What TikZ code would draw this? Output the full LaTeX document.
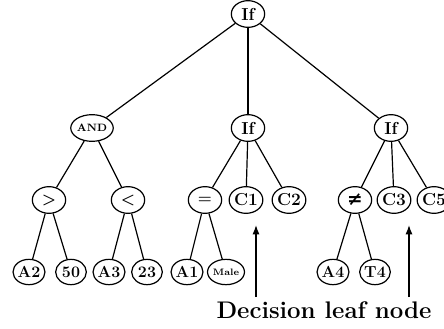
\documentclass[tikz,border=0pt]{standalone}
\usetikzlibrary{arrows.meta,shapes.geometric}
\usepackage{fontspec}
\newfontfamily\symfnt{DejaVu Serif}
\begin{document}
\begin{tikzpicture}[x=0.75pt,y=-0.75pt,>=Latex,line width=0.9pt,
  gp/.style={draw,ellipse,inner sep=0pt,minimum width=25pt,minimum height=20pt,font=\bfseries\boldmath\fontsize{13}{15}\selectfont},
  leaf/.style={gp,minimum width=23pt,minimum height=19pt,font=\bfseries\large}]
\useasboundingbox (0,0) rectangle (444,329);
\clip (0,0) rectangle (444,329);
\node[gp] (root) at (248,14) {If};
\node[gp,font=\bfseries\footnotesize] (and) at (92,128) {AND};
\node[gp] (if2) at (248,128) {If};
\node[gp] (if3) at (391,128) {If};
\node[gp] (gt) at (49,200) {$>$};
\node[gp] (lt) at (128,200) {$<$};
\node[gp] (eq) at (205,200) {$=$};
\node[gp] (c1) at (246,200) {C1};
\node[gp] (c2) at (289,200) {C2};
\node[gp,font=\symfnt\bfseries\fontsize{14}{16}\selectfont] (neq) at (355,200) {≠};
\node[gp] (c3) at (394,200) {C3};
\node[gp] (c5) at (434,200) {C5};
\node[leaf] (a2) at (29,272) {A2};
\node[leaf] (n50) at (71,272) {50};
\node[leaf] (a3) at (109,272) {A3};
\node[leaf] (n23) at (147,272) {23};
\node[leaf] (a1) at (187,272) {A1};
\node[leaf,font=\bfseries\scriptsize] (male) at (226,272) {Male};
\node[leaf] (a4) at (333,272) {A4};
\node[leaf] (t4) at (375,272) {T4};
\draw (root) -- (and);
\draw (root) -- (if2);
\draw (root) -- (if3);
\draw (and) -- (gt);
\draw (and) -- (lt);
\draw (gt) -- (a2);
\draw (gt) -- (n50);
\draw (lt) -- (a3);
\draw (lt) -- (n23);
\draw (if2) -- (eq);
\draw (if2) -- (c1);
\draw (if2) -- (c2);
\draw (eq) -- (a1);
\draw (eq) -- (male);
\draw (if3) -- (neq);
\draw (if3) -- (c3);
\draw (if3) -- (c5);
\draw (neq) -- (a4);
\draw (neq) -- (t4);
% pointers to the leaves
\coordinate (p1) at (256,297);
\coordinate (q1) at (256,225);
\coordinate (p2) at (409,297);
\coordinate (q2) at (409,225);
\draw[->] (p1) -- (q1);
\draw[->] (p2) -- (q2);
\node[font=\bfseries\fontsize{18}{20}\selectfont] (lbl) at (324,310) {Decision leaf node};
\end{tikzpicture}
\end{document}
